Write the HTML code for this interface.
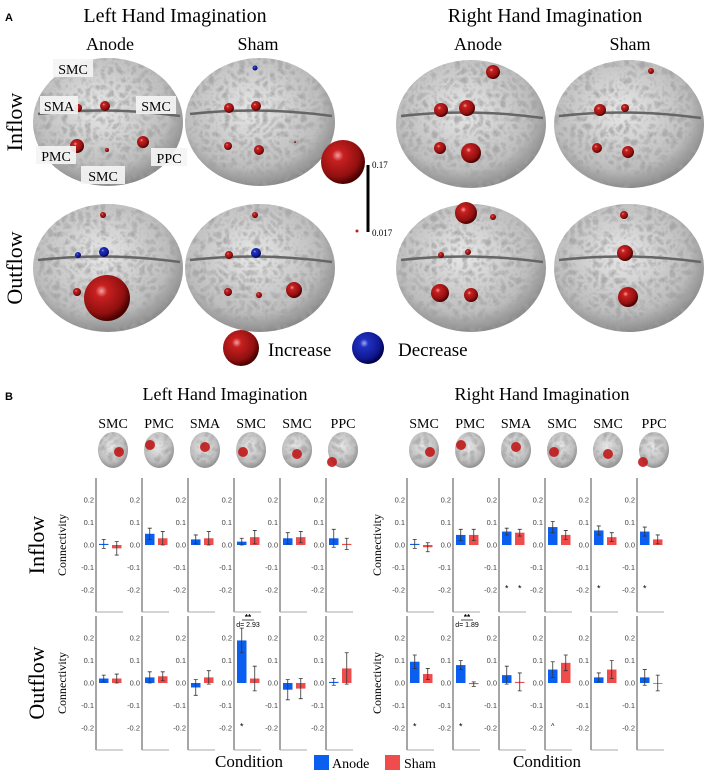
<!DOCTYPE html>
<html><head><meta charset="utf-8"><style>
body{margin:0;background:#fff;}
svg{display:block;font-family:"Liberation Serif",serif;}
.tk{font-family:"Liberation Sans",sans-serif;font-size:7.5px;fill:#444;}
</style></head><body>
<svg id="fig" width="708" height="775" viewBox="0 0 708 775">
<defs>
<radialGradient id="gb" cx="45%" cy="40%" r="65%"><stop offset="0" stop-color="#e8e8e8"/><stop offset="0.7" stop-color="#bdbdbd"/><stop offset="1" stop-color="#7a7a7a"/></radialGradient>
<radialGradient id="rs" cx="38%" cy="35%" r="65%"><stop offset="0" stop-color="#f4a0a0"/><stop offset="0.2" stop-color="#c82020"/><stop offset="0.75" stop-color="#901010"/><stop offset="1" stop-color="#4a0000"/></radialGradient>
<radialGradient id="bs" cx="38%" cy="35%" r="65%"><stop offset="0" stop-color="#a0a8f4"/><stop offset="0.2" stop-color="#2030c0"/><stop offset="0.75" stop-color="#101890"/><stop offset="1" stop-color="#00004a"/></radialGradient>
<filter id="tex" x="0" y="0" width="1" height="1"><feTurbulence type="turbulence" baseFrequency="0.13" numOctaves="2" seed="3"/><feColorMatrix type="matrix" values="0 0 0 0 0.35 0 0 0 0 0.35 0 0 0 0 0.35 0 0 0 2.2 -0.35"/><feComposite in2="SourceGraphic" operator="in"/></filter>
</defs>
<g id="panelA">
<text x="5" y="21" font-family="Liberation Sans" font-weight="bold" font-size="11">A</text>
<text x="175" y="22" font-size="20" text-anchor="middle">Left Hand Imagination</text>
<text x="545" y="22" font-size="20" text-anchor="middle">Right Hand Imagination</text>
<text x="110" y="50" font-size="18" text-anchor="middle">Anode</text>
<text x="258" y="50" font-size="18" text-anchor="middle">Sham</text>
<text x="478" y="50" font-size="18" text-anchor="middle">Anode</text>
<text x="630" y="50" font-size="18" text-anchor="middle">Sham</text>
<text transform="translate(22,122) rotate(-90)" font-size="22" text-anchor="middle">Inflow</text>
<text transform="translate(22,268) rotate(-90)" font-size="22" text-anchor="middle">Outflow</text>
<g id="brains"></g>
<line x1="368" y1="165" x2="368" y2="232" stroke="#000" stroke-width="3"/>
<text x="372" y="168" font-size="9">0.17</text>
<text x="372" y="236" font-size="9">0.017</text>
<circle cx="357" cy="231" r="1.5" fill="#c02020"/>
<circle cx="343" cy="162" r="22" fill="url(#rs)"/>
<circle cx="241" cy="348" r="18" fill="url(#rs)"/>
<text x="268" y="356" font-size="19">Increase</text>
<circle cx="368" cy="348" r="16" fill="url(#bs)"/>
<text x="398" y="356" font-size="19">Decrease</text>
</g>
<g id="panelB">
<text x="5" y="400" font-family="Liberation Sans" font-weight="bold" font-size="11">B</text>
<text x="225" y="400" font-size="18" text-anchor="middle">Left Hand Imagination</text>
<text x="542" y="400" font-size="18" text-anchor="middle">Right Hand Imagination</text>
<text transform="translate(44,545) rotate(-90)" font-size="22" text-anchor="middle">Inflow</text>
<text transform="translate(44,683) rotate(-90)" font-size="22" text-anchor="middle">Outflow</text>
<g id="charts"></g>
<text x="249" y="767" font-size="17" text-anchor="middle">Condition</text>
<text x="547" y="767" font-size="17" text-anchor="middle">Condition</text>
<rect x="314" y="755" width="15" height="15" fill="#0a5ff0"/>
<text x="332" y="768" font-size="14">Anode</text>
<rect x="385" y="755" width="15" height="15" fill="#f04c4c"/>
<text x="404" y="768" font-size="14">Sham</text>
</g>
</svg>
<script>
// ===== chart data =====
const regionsLeft = ["SMC","PMC","SMA","SMC","SMC","PPC"];
const regionsRight = ["SMC","PMC","SMA","SMC","SMC","PPC"];
const leftInflowAnode = [0.005,0.05,0.025,0.015,0.03,0.03];
const leftInflowAnodeErr = [0.02,0.025,0.02,0.015,0.025,0.04];
const leftInflowSham = [-0.015,0.03,0.03,0.035,0.035,0.005];
const leftInflowShamErr = [0.03,0.03,0.03,0.03,0.025,0.025];
const leftOutflowAnode = [0.02,0.025,-0.02,0.19,-0.03,0.005];
const leftOutflowAnodeErr = [0.015,0.025,0.035,0.055,0.045,0.015];
const leftOutflowSham = [0.02,0.03,0.025,0.02,-0.025,0.065];
const leftOutflowShamErr = [0.02,0.02,0.03,0.055,0.045,0.07];
const rightInflowAnode = [0.005,0.045,0.06,0.08,0.065,0.06];
const rightInflowAnodeErr = [0.02,0.025,0.015,0.025,0.02,0.02];
const rightInflowSham = [-0.01,0.045,0.055,0.045,0.035,0.025];
const rightInflowShamErr = [0.02,0.025,0.015,0.02,0.02,0.02];
const rightOutflowAnode = [0.095,0.08,0.035,0.06,0.025,0.025];
const rightOutflowAnodeErr = [0.03,0.02,0.04,0.035,0.02,0.035];
const rightOutflowSham = [0.04,-0.005,0.005,0.09,0.06,0.0];
const rightOutflowShamErr = [0.025,0.01,0.04,0.035,0.04,0.035];
const tickValues = [0.2,0.1,0.0,-0.1,-0.2];
const tickLabels = ["0.2","0.1","0.0","-0.1","-0.2"];
// significance marks: [group, row, panel, condition(0 anode/1 sham), symbol]
const sigMarks = [["L","out",3,0,"*"],["R","in",2,0,"*"],["R","in",2,1,"*"],["R","in",4,0,"*"],["R","in",5,0,"*"],["R","out",0,0,"*"],["R","out",1,0,"*"],["R","out",3,0,"^"]];
const effectLabels = [["L",3,"d= 2.93"],["R",1,"d= 1.89"]];

const NS = "http://www.w3.org/2000/svg";
function mk(tag, attrs, parent){const e=document.createElementNS(NS,tag);for(const k in attrs)e.setAttribute(k,attrs[k]);parent.appendChild(e);return e;}

// ===== brains (panel A) =====
const brainsG = document.getElementById('brains');
const brainBoxes = [[108,122],[260,122],[108,268],[260,268],[471,124],[629,124],[471,268],[629,268]];
brainBoxes.forEach((b,i)=>{
  const g = mk('g',{},brainsG);
  
  
  mk('ellipse',{cx:b[0],cy:b[1],rx:75,ry:64,fill:'url(#gb)'},g);
  mk('ellipse',{cx:b[0],cy:b[1],rx:75,ry:64,fill:'#999',filter:'url(#tex)',opacity:0.75},g);
  mk('path',{d:`M${b[0]-70} ${b[1]-8} Q${b[0]} ${b[1]-16} ${b[0]+72} ${b[1]-6}`,stroke:'#666',fill:'none','stroke-width':2.5},g);
});
const spheres = [
 [78,108,4,'r'],[105,106,5,'r'],[77,146,7,'r'],[143,142,6,'r'],[107,150,2,'r'],
 [255,68,2.5,'b'],[229,108,5,'r'],[256,106,5,'r'],[228,146,4,'r'],[259,150,5,'r'],[295,142,1,'r'],
 [103,215,3,'r'],[77,292,4,'r'],[107,298,23,'r'],[78,255,3,'b'],[104,252,5,'b'],
 [255,215,3,'r'],[229,255,4,'r'],[228,292,4,'r'],[259,295,3,'r'],[294,290,8,'r'],[256,253,5,'b'],
 [493,72,7,'r'],[441,110,7,'r'],[467,108,8,'r'],[440,148,6,'r'],[471,153,10,'r'],
 [651,71,3,'r'],[600,110,6,'r'],[625,108,4,'r'],[597,148,5,'r'],[628,152,6,'r'],
 [466,213,11,'r'],[493,217,3,'r'],[441,255,3,'r'],[468,252,3,'r'],[440,293,9,'r'],[471,295,7,'r'],
 [624,215,4,'r'],[625,253,8,'r'],[628,297,10,'r']
];
spheres.forEach(s=>{
  const c = mk('circle',{cx:s[0],cy:s[1],r:s[2],fill:s[3]==='r'?'url(#rs)':'url(#bs)'},brainsG);
  
  
});
const regLabels = [["SMC",73,71,40],["SMA",59,108,38],["SMC",156,108,40],["PMC",56,158,40],["PPC",169,160,36],["SMC",103,178,44]];
regLabels.forEach(l=>{
  const g = mk('g',{},brainsG);
  
  
  mk('rect',{x:l[1]-l[3]/2,y:l[2]-12,width:l[3],height:18,fill:'#f4f4f4',opacity:0.92},g);
  const t = mk('text',{x:l[1],y:l[2]+3,'font-size':14,'text-anchor':'middle'},g);
  t.textContent = l[0];
});

// ===== bar charts (panel B) =====
const chartsG = document.getElementById('charts');
const axesXL = [96,142,188,234,280,326];
const axesXR = [407,453,499,545,591,637];
const rows = {in:{top:478,bottom:612,zero:545},out:{top:616,bottom:750,zero:683}};
const pxPerUnit = 224;
function yScale(row,v){return rows[row].zero - v*pxPerUnit;}
const groups = {
 L:{axes:axesXL,regions:regionsLeft,in:[leftInflowAnode,leftInflowAnodeErr,leftInflowSham,leftInflowShamErr],out:[leftOutflowAnode,leftOutflowAnodeErr,leftOutflowSham,leftOutflowShamErr]},
 R:{axes:axesXR,regions:regionsRight,in:[rightInflowAnode,rightInflowAnodeErr,rightInflowSham,rightInflowShamErr],out:[rightOutflowAnode,rightOutflowAnodeErr,rightOutflowSham,rightOutflowShamErr]}
};
const colors = ['#0a5ff0','#f04c4c'];
for(const gk of ['L','R']){
  const G = groups[gk];
  G.axes.forEach((ax,i)=>{
    const lab = mk('text',{x:ax+17,y:428,'font-size':14,'text-anchor':'middle'},chartsG);
    lab.textContent = G.regions[i];
    
    
    const th = mk('g',{},chartsG);
    
    
    mk('ellipse',{cx:ax+17,cy:450,rx:15,ry:18,fill:'url(#gb)'},th);
    mk('ellipse',{cx:ax+17,cy:450,rx:15,ry:18,fill:'#999',filter:'url(#tex)',opacity:0.7},th);
    const spots=[[6,2],[-9,-5],[0,-3],[-8,2],[0,4],[-11,12]];
    const sp=spots[i];
    mk('circle',{cx:ax+17+sp[0],cy:450+sp[1],r:5,fill:'#c01818',opacity:0.9},th);
    for(const row of ['in','out']){
      const R = rows[row];
      const pg = mk('g',{},chartsG);
      
      
      const yAxis = mk('line',{x1:ax,y1:R.top,x2:ax,y2:R.bottom,stroke:'#888','stroke-width':1.5},pg);
      
      
      const xAxis = mk('line',{x1:ax,y1:R.bottom,x2:ax+27,y2:R.bottom,stroke:'#aaa','stroke-width':1},pg);
      
      
      tickValues.forEach((tv,ti)=>{
        const t = mk('text',{x:ax-2,y:yScale(row,tv)+2.5,'text-anchor':'end',class:'tk'},pg);
        t.textContent = tickLabels[ti];
        
        
      });
      const d = G[row];
      for(let c=0;c<2;c++){
        const v = d[c*2][i], e = d[c*2+1][i];
        const x0 = ax + 3 + c*13, w = 9.5;
        const y0 = yScale(row,Math.max(v,0)), y1 = yScale(row,Math.min(v,0));
        const bar = mk('rect',{x:x0,y:y0,width:w,height:Math.max(y1-y0,0.8),fill:colors[c]},pg);
        
        
        const cx = x0+w/2, ya = yScale(row,v+e), yb = yScale(row,v-e);
        const eb = mk('path',{d:`M${cx} ${ya}V${yb}M${cx-2} ${ya}H${cx+2}M${cx-2} ${yb}H${cx+2}`,stroke:'#333','stroke-width':0.8,fill:'none'},pg);
        
        
      }
    }
  });
  const cl = mk('text',{transform:`translate(${gk==='L'?66:381},545) rotate(-90)`,'font-size':12,'text-anchor':'middle'},chartsG);
  cl.textContent='Connectivity';
  
  
  const co = mk('text',{transform:`translate(${gk==='L'?66:381},683) rotate(-90)`,'font-size':12,'text-anchor':'middle'},chartsG);
  co.textContent='Connectivity';
  
  
}
sigMarks.forEach(m=>{
  const ax = groups[m[0]].axes[m[2]];
  const t = mk('text',{x:ax+3+m[3]*13+4.75,y:yScale(m[1],-0.19)+(m[4]==='*'?4:3),'font-size':m[4]==='*'?9:7,'text-anchor':'middle','font-family':'Liberation Sans'},chartsG);
  t.textContent = m[4];
  
  
});
effectLabels.forEach(m=>{
  const ax = groups[m[0]].axes[m[1]];
  const g = mk('g',{},chartsG);
  
  
  mk('line',{x1:ax+8,y1:620,x2:ax+20,y2:620,stroke:'#222','stroke-width':0.8},g);
  const s = mk('text',{x:ax+14,y:620,'font-size':8,'text-anchor':'middle','font-family':'Liberation Sans','font-weight':'bold'},g);
  s.textContent='**';
  const t = mk('text',{x:ax+14,y:627,'font-size':7,'text-anchor':'middle','font-family':'Liberation Sans'},g);
  t.textContent=m[2];
});
</script>
</body></html>
